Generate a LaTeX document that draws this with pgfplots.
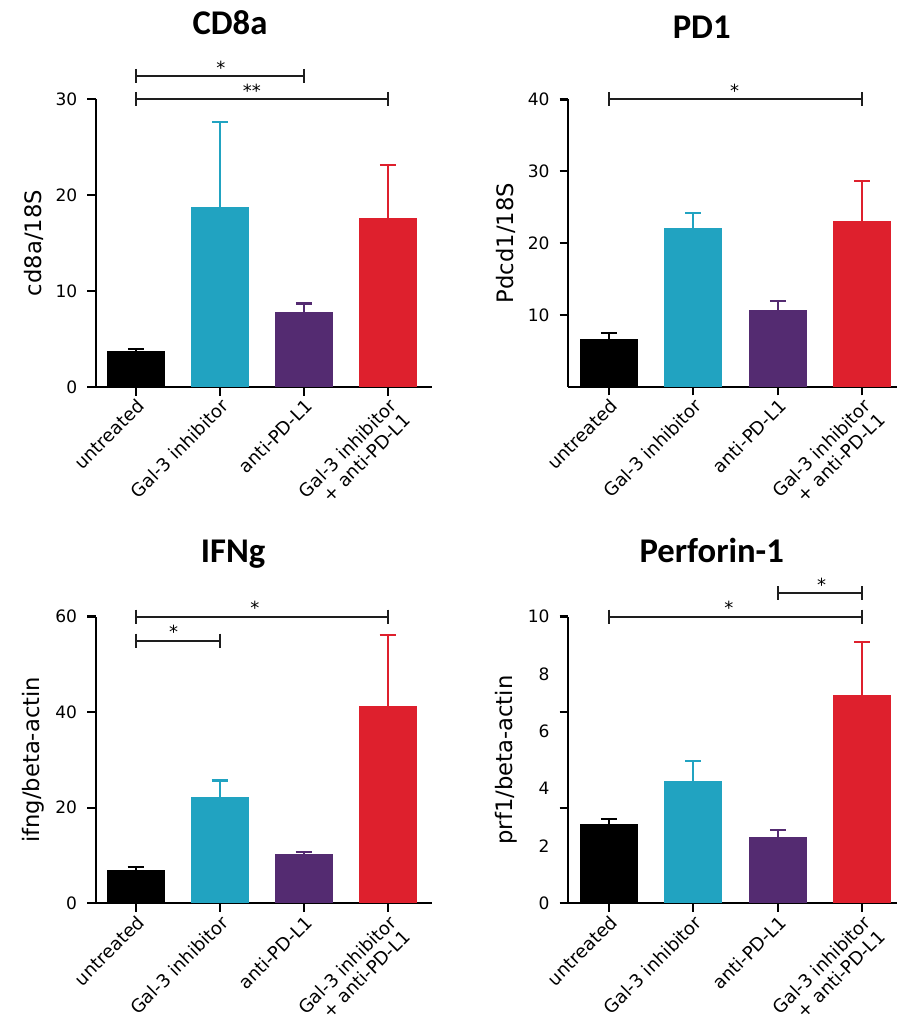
\documentclass[border=0pt]{standalone}
\usepackage{fontspec}
\setmainfont{DejaVu Sans}
\newfontfamily\titlefont{Carlito}
\usepackage{pgfplots}
\pgfplotsset{compat=1.18}

\definecolor{cblack}{RGB}{0,0,0}
\definecolor{ccyan}{RGB}{33,163,193}
\definecolor{cpurple}{RGB}{84,43,113}
\definecolor{cred}{RGB}{222,32,45}
\definecolor{brk}{RGB}{30,30,30}

\pgfplotsset{
  panel/.style={
    scale only axis,
    axis x line=bottom, axis y line=left,
    axis line style={-, line width=1.7pt},
    every tick/.style={black, line width=1.7pt},
    tick align=outside,
    major tick length=6.5pt,
    ymin=0,
    xtick={0,1,2,3},
    xticklabels={untreated, Gal-3 inhibitor, anti-PD-L1, {Gal-3 inhibitor\\+ anti-PD-L1}},
    xticklabel style={rotate=45, anchor=north east, align=right, font=\fontsize{13.6}{15}\selectfont, inner sep=1pt},
    yticklabel style={font=\fontsize{12.8}{14}\selectfont, xshift=-4pt},
    every axis y label/.style={at={(axis description cs:0,0.5)}, xshift=-46.5pt, rotate=90, anchor=center, font=\fontsize{17}{19}\selectfont},
    /pgf/number format/assume math mode=true,
    clip=false,
    ybar, bar width=43.5pt,
  },
  gbar/.style={fill=#1, draw=none, bar shift=0pt,
    error bars/.cd, y dir=plus, y explicit,
    error bar style={#1, line width=1.6pt},
    error mark options={#1, rotate=90, line width=1.6pt, mark size=6pt}},
}
\newcommand{\brkk}[5]{%
  \draw[line width=1.6pt, brk] ([yshift=5.25pt]axis cs:#1,#3) -- ([yshift=-5.25pt]axis cs:#1,#3)
     (axis cs:#1,#3) -- (axis cs:#2,#3)
     ([yshift=5.25pt]axis cs:#2,#3) -- ([yshift=-5.25pt]axis cs:#2,#3);
  \node[font=\fontsize{13.5}{13.5}\selectfont, anchor=base, inner sep=0pt] at ([yshift=1.3pt]axis cs:#4,#3) {#5};}

\begin{document}
\begin{tikzpicture}
\useasboundingbox (0,0) rectangle (672.75pt,765.75pt);

% titles
\node[anchor=base, font=\titlefont\bfseries\fontsize{26}{30}\selectfont, inner sep=0pt] at (172.5pt,{765.75pt-35*0.75pt}) {CD8a};
\node[anchor=base, font=\titlefont\bfseries\fontsize{26}{30}\selectfont, inner sep=0pt] at (526.3pt,{765.75pt-39*0.75pt}) {PD1};
\node[anchor=base, font=\titlefont\bfseries\fontsize{26}{30}\selectfont, inner sep=0pt] at (174.8pt,{765.75pt-563*0.75pt}) {IFNg};
\node[anchor=base, font=\titlefont\bfseries\fontsize{26}{30}\selectfont, inner sep=0pt] at (533.8pt,{765.75pt-563*0.75pt}) {Perforin-1};

% CD8a
\begin{axis}[panel, at={(72pt,475.5pt)}, anchor=south west, width=252pt, height=216pt,
  xmin=-0.476, xmax=3.524, ymax=30, ytick={0,10,20,30}, ylabel={cd8a/18S}]
\addplot[gbar=cblack] coordinates {(0,3.75) +- (0,0.25)};
\addplot[gbar=ccyan] coordinates {(1,18.8) +- (0,8.8)};
\addplot[gbar=cpurple] coordinates {(2,7.85) +- (0,0.85)};
\addplot[gbar=cred] coordinates {(3,17.6) +- (0,5.5)};
\brkk{0}{2}{32.4}{1.01}{*}
\brkk{0}{3}{30}{1.38}{**}
\end{axis}

% PD1
\begin{axis}[panel, at={(426.2pt,475.7pt)}, anchor=south west, width=246.5pt, height=215.5pt,
  xmin=-0.48, xmax=3.41, ymax=40, ytick={10,20,30,40}, ylabel={Pdcd1/18S}]
\addplot[gbar=cblack] coordinates {(0,6.64) +- (0,0.79)};
\addplot[gbar=ccyan] coordinates {(1,22.05) +- (0,2.15)};
\addplot[gbar=cpurple] coordinates {(2,10.67) +- (0,1.26)};
\addplot[gbar=cred] coordinates {(3,23.1) +- (0,5.5)};
\brkk{0}{3}{40}{1.49}{*}
\end{axis}

% IFNg
\begin{axis}[panel, at={(71.8pt,88.3pt)}, anchor=south west, width=252pt, height=215pt,
  xmin=-0.476, xmax=3.524, ymax=60, ytick={0,20,40,60}, ylabel={ifng/beta-actin}]
\addplot[gbar=cblack] coordinates {(0,6.97) +- (0,0.69)};
\addplot[gbar=ccyan] coordinates {(1,22.2) +- (0,3.5)};
\addplot[gbar=cpurple] coordinates {(2,10.3) +- (0,0.44)};
\addplot[gbar=cred] coordinates {(3,41.3) +- (0,14.8)};
\brkk{0}{3}{60}{1.42}{*}
\brkk{0}{1}{54.96}{0.45}{*}
\end{axis}

% Perforin-1
\begin{axis}[panel, at={(426.2pt,88.3pt)}, anchor=south west, width=246.5pt, height=215pt,
  xmin=-0.48, xmax=3.41, ymax=10, ytick={0,3.3333,6.6667,10}, yticklabels={,,,},
  extra y ticks={0,2,4,6,8,10}, extra y tick labels={0,2,4,6,8,10},
  extra y tick style={major tick length=0pt, yticklabel style={xshift=-6.5pt}},
  ylabel={prf1/beta-actin}]
\addplot[gbar=cblack] coordinates {(0,2.76) +- (0,0.17)};
\addplot[gbar=ccyan] coordinates {(1,4.28) +- (0,0.69)};
\addplot[gbar=cpurple] coordinates {(2,2.32) +- (0,0.24)};
\addplot[gbar=cred] coordinates {(3,7.27) +- (0,1.84)};
\brkk{0}{3}{10}{1.42}{*}
\brkk{2}{3}{10.81}{2.52}{*}
\end{axis}
\end{tikzpicture}
\end{document}
